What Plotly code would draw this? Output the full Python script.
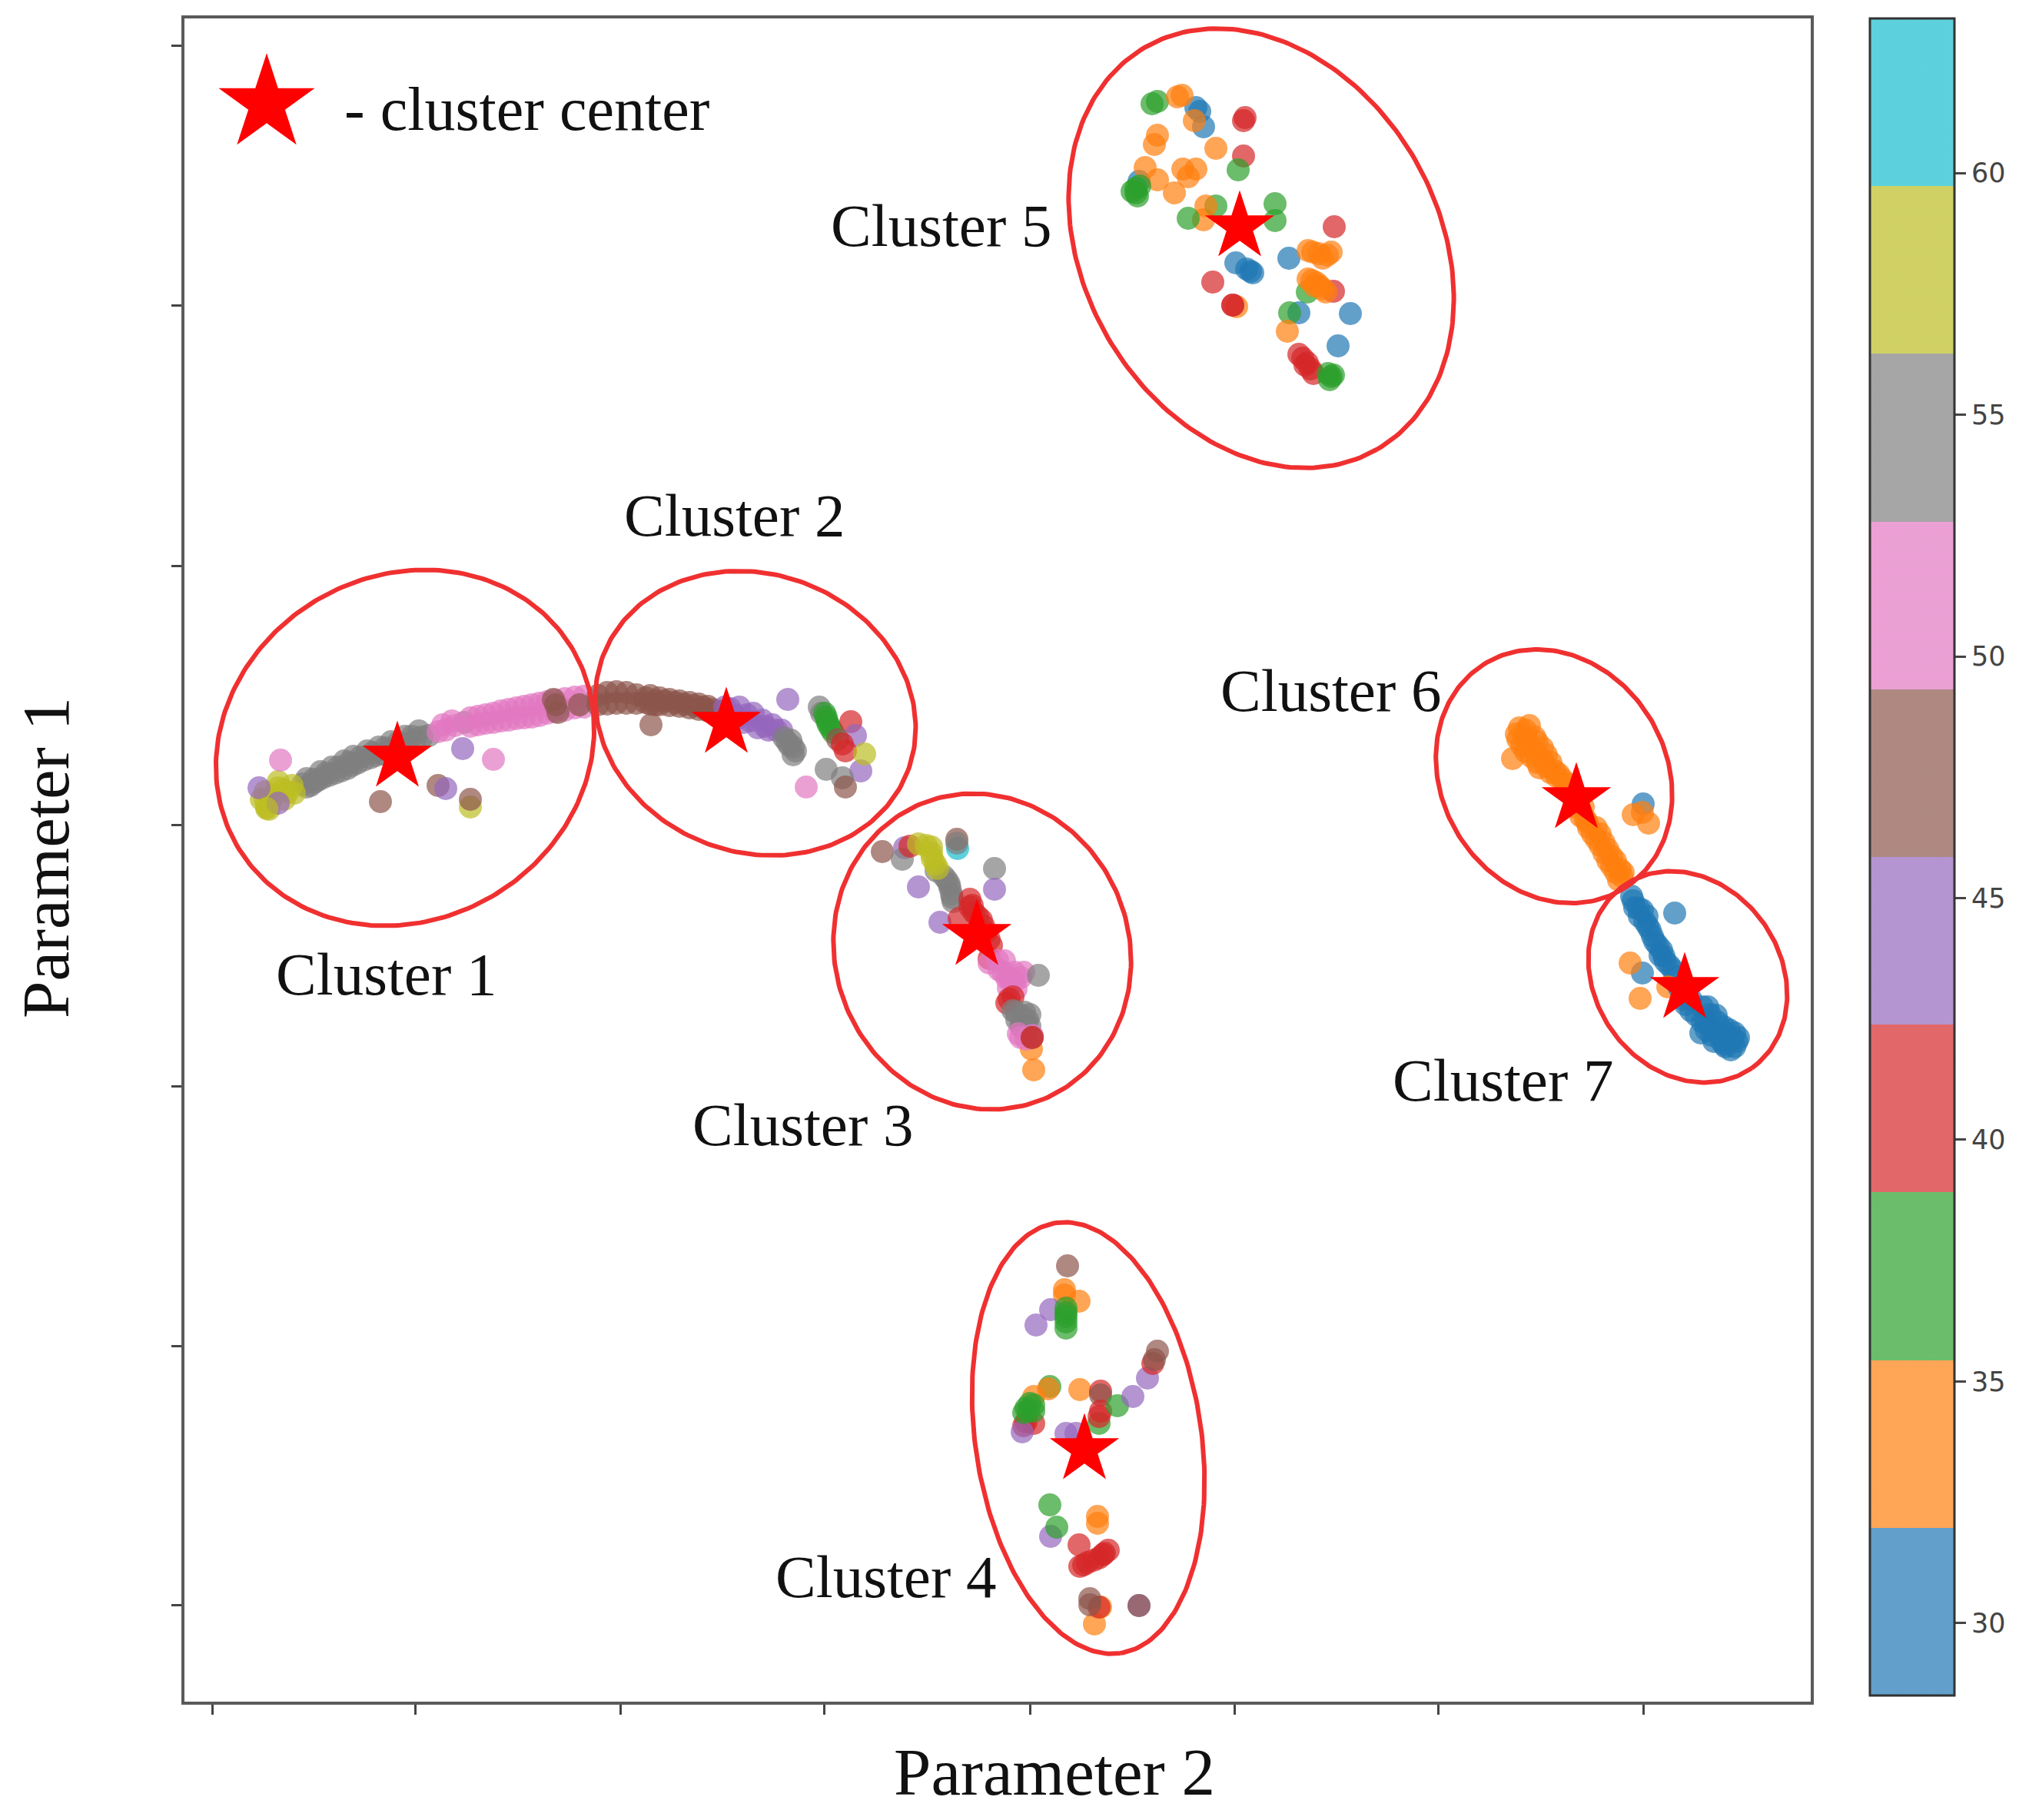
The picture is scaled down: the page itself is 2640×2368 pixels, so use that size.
import math
import plotly.graph_objects as go

# Age groups (one representative value per colour band of the colour bar)
BLUE, ORANGE, GREEN, RED, PURPLE, BROWN, PINK, GRAY, OLIVE, CYAN = 30, 34, 37, 41, 44, 48, 51, 55, 58, 62

x_ticks = [276, 540, 807, 1072, 1340, 1606, 1871, 2138]
y_ticks = [59, 397, 736, 1073, 1413, 1751, 2088]
colorbar_ticks = [30, 35, 40, 45, 50, 55, 60]
band_colors = ["31,119,180", "255,127,14", "44,160,44", "214,39,40", "148,103,189",
               "140,86,75", "227,119,194", "127,127,127", "188,189,34", "23,190,207"]

cluster_1 = [
    (399,1013,GRAY),(417,1004,GRAY),(432,998,GRAY),(448,990,GRAY),(460,984,GRAY),(478,977,GRAY),(493,972,GRAY),(509,965,GRAY),(527,958,GRAY),(545,951,GRAY),
    (399,1024,GRAY),(409,1018,GRAY),(420,1012,GRAY),(436,1006,GRAY),(452,1000,GRAY),(465,993,GRAY),(482,986,GRAY),(497,981,GRAY),(513,974,GRAY),(531,967,GRAY),(549,959,GRAY),(558,957,GRAY),(604,940,GRAY),
    (408,1014,GRAY),(424,1006,GRAY),(440,998,GRAY),(454,992,GRAY),(469,985,GRAY),(485,979,GRAY),(501,973,GRAY),(518,966,GRAY),(536,958,GRAY),
    (394,1020,GRAY),(404,1022,GRAY),(414,1015,GRAY),(428,1009,GRAY),(444,1003,GRAY),(458,996,GRAY),(473,989,GRAY),(489,983,GRAY),(505,977,GRAY),(522,970,GRAY),(540,963,GRAY),
    (347,1050,OLIVE),(340,1040,OLIVE),(368,1028,OLIVE),(380,1022,OLIVE),(362,1017,OLIVE),(383,1032,OLIVE),(350,1053,OLIVE),
    (345,1030,OLIVE),(355,1035,OLIVE),(370,1040,OLIVE),(375,1030,OLIVE),(352,1043,OLIVE),(362,1025,OLIVE),(345,1040,OLIVE),
    (337,1025,PURPLE),(362,1045,PURPLE),(347,1052,OLIVE),
    (576,943,PINK),(588,938,PINK),(570,952,PINK),(580,950,PINK),(592,944,PINK),
    (612,934,PINK),(622,932,PINK),(632,930,PINK),(642,928,PINK),(652,925,PINK),(662,923,PINK),(672,921,PINK),(682,919,PINK),(692,917,PINK),(702,915,PINK),(712,913,PINK),(722,911,PINK),(735,909,PINK),(748,907,PINK),(760,906,PINK),
    (612,945,PINK),(622,943,PINK),(632,941,PINK),(642,940,PINK),(652,938,PINK),(662,937,PINK),(672,935,PINK),(682,934,PINK),(692,933,PINK),(702,931,PINK),(712,928,PINK),(722,926,PINK),(735,924,PINK),(748,921,PINK),(760,920,PINK),
    (723,917,BROWN),(726,927,BROWN),(720,910,BROWN),(754,917,BROWN),
    (365,989,PINK),(642,988,PINK),(602,974,PURPLE),(495,1043,BROWN),(570,1022,BROWN),(580,1026,PURPLE),(612,1050,OLIVE),(612,1040,BROWN),
]
cluster_2 = [
    (778,905,BROWN),(790,901,BROWN),(802,900,BROWN),(815,901,BROWN),(828,904,BROWN),(778,917,BROWN),(790,916,BROWN),(802,915,BROWN),(815,915,BROWN),(828,915,BROWN),
    (840,908,BROWN),(852,912,BROWN),(865,912,BROWN),(878,914,BROWN),(890,916,BROWN),(903,918,BROWN),(915,920,BROWN),(927,923,BROWN),(937,925,BROWN),(840,914,BROWN),(852,917,BROWN),
    (846,905,BROWN),(858,908,BROWN),(871,910,BROWN),(884,912,BROWN),(897,914,BROWN),(909,916,BROWN),(921,919,BROWN),
    (846,916,BROWN),(858,917,BROWN),(871,918,BROWN),(884,919,BROWN),(897,921,BROWN),(909,923,BROWN),(921,925,BROWN),(933,927,BROWN),
    (943,920,PURPLE),(950,922,PURPLE),(962,920,PURPLE),(956,930,PURPLE),(972,930,PURPLE),(980,928,PURPLE),(976,938,PURPLE),(960,935,PURPLE),(992,937,PURPLE),(995,945,PURPLE),(1005,943,PURPLE),(1000,950,PURPLE),(986,947,PURPLE),(1010,950,PURPLE),(1017,950,PURPLE),(968,940,PURPLE),
    (1020,960,GRAY),(1024,965,GRAY),(1029,963,GRAY),(1027,970,GRAY),(1032,972,GRAY),(1035,977,GRAY),(1032,982,GRAY),
    (1066,920,GRAY),(1069,928,GRAY),(1073,928,GREEN),(1075,933,GREEN),(1076,938,GREEN),(1078,943,GREEN),(1081,948,GREEN),(1084,953,GREEN),(1107,939,RED),(1113,957,PURPLE),(1090,962,BROWN),(1096,968,RED),(1100,977,RED),
    (1120,1003,PURPLE),(1125,981,OLIVE),(1075,1001,GRAY),(1096,1012,GRAY),(1100,1024,BROWN),(1049,1024,PINK),(1025,910,PURPLE),(847,943,BROWN),
]
cluster_3 = [
    (1148,1108,BROWN),(1177,1103,PURPLE),(1174,1118,GRAY),(1184,1101,RED),
    (1218,1133,GRAY),(1228,1140,GRAY),(1232,1145,GRAY),(1235,1150,GRAY),(1236,1155,GRAY),(1238,1163,GRAY),(1239,1168,GRAY),(1240,1173,GRAY),
    (1195,1098,OLIVE),(1205,1100,OLIVE),(1212,1102,OLIVE),(1212,1110,OLIVE),(1213,1117,OLIVE),(1217,1124,OLIVE),(1220,1130,OLIVE),
    (1246,1104,CYAN),(1245,1092,BROWN),(1245,1097,GRAY),
    (1294,1130,GRAY),(1294,1157,PURPLE),(1195,1154,PURPLE),(1223,1200,PURPLE),
    (1248,1195,RED),(1262,1170,RED),(1262,1180,RED),(1265,1178,RED),(1267,1187,RED),(1272,1192,RED),(1277,1197,RED),(1280,1205,RED),(1283,1213,RED),(1287,1222,RED),(1290,1230,RED),(1287,1247,RED),
    (1287,1253,PINK),(1298,1250,PINK),(1307,1250,PINK),(1300,1262,PINK),(1305,1265,PINK),(1310,1273,PINK),(1315,1275,PINK),(1312,1285,PINK),(1322,1287,PINK),(1320,1265,PINK),(1320,1277,PINK),(1328,1272,PINK),(1332,1265,PINK),(1351,1269,GRAY),
    (1318,1297,RED),(1313,1300,RED),(1310,1305,RED),(1318,1315,GRAY),(1322,1317,GRAY),(1333,1317,GRAY),(1340,1320,GRAY),(1323,1327,GRAY),(1337,1327,GRAY),(1330,1322,GRAY),(1330,1337,GRAY),(1328,1335,GRAY),(1335,1335,GRAY),(1340,1335,GRAY),
    (1342,1365,ORANGE),(1345,1392,ORANGE),(1325,1345,PINK),(1328,1350,PINK),(1335,1352,PINK),(1343,1347,PINK),(1343,1350,BROWN),(1343,1350,RED),
]
cluster_4 = [
    (1389,1647,BROWN),(1385,1678,ORANGE),(1385,1685,ORANGE),(1404,1693,ORANGE),(1367,1704,PURPLE),(1348,1724,PURPLE),
    (1387,1702,GREEN),(1387,1708,GREEN),(1387,1713,GREEN),(1387,1720,GREEN),(1387,1728,GREEN),
    (1366,1804,GREEN),(1364,1807,ORANGE),(1345,1817,ORANGE),(1332,1855,RED),(1345,1852,RED),(1335,1850,RED),(1330,1863,PURPLE),(1338,1836,GREEN),(1335,1832,GREEN),(1340,1826,GREEN),(1345,1836,GREEN),(1332,1838,GREEN),(1345,1828,GREEN),
    (1405,1808,ORANGE),(1430,1852,GREEN),(1432,1810,RED),(1432,1815,BROWN),(1432,1836,RED),(1430,1843,RED),
    (1454,1829,GREEN),(1474,1817,PURPLE),(1493,1793,PURPLE),(1500,1774,RED),(1506,1758,BROWN),(1502,1769,BROWN),
    (1387,1865,PURPLE),(1400,1865,PURPLE),
    (1366,1958,GREEN),(1367,1999,PURPLE),(1375,1987,GREEN),(1428,1973,ORANGE),(1428,1982,ORANGE),
    (1404,2010,RED),(1405,2038,RED),(1410,2036,RED),(1415,2033,RED),(1423,2030,RED),(1430,2027,RED),(1435,2023,RED),(1437,2021,RED),(1442,2017,RED),
    (1424,2113,ORANGE),(1432,2091,ORANGE),(1430,2091,RED),(1418,2080,BROWN),(1418,2088,BROWN),(1482,2089,PURPLE),(1482,2089,BROWN),
]
cluster_5 = [
    (1556,140,BLUE),(1561,145,BLUE),(1566,165,BLUE),(1554,157,ORANGE),
    (1506,132,GREEN),(1499,135,GREEN),(1538,124,ORANGE),(1532,126,ORANGE),
    (1618,157,RED),(1620,153,RED),(1506,176,ORANGE),(1502,188,ORANGE),(1582,193,ORANGE),
    (1618,203,RED),(1611,221,GREEN),
    (1482,236,BLUE),(1490,218,ORANGE),(1506,234,ORANGE),(1478,245,GREEN),(1480,255,GREEN),(1478,251,GREEN),(1483,242,GREEN),(1473,249,GREEN),
    (1539,220,ORANGE),(1556,220,ORANGE),(1546,230,ORANGE),(1528,251,ORANGE),
    (1566,286,ORANGE),(1582,268,GREEN),(1569,268,ORANGE),(1546,284,GREEN),
    (1659,265,GREEN),(1659,287,GREEN),(1736,295,RED),
    (1677,336,BLUE),(1702,326,ORANGE),(1708,328,ORANGE),(1716,330,ORANGE),(1727,332,ORANGE),(1732,328,ORANGE),(1721,336,ORANGE),
    (1608,342,BLUE),(1622,350,BLUE),(1627,353,BLUE),(1630,355,BLUE),(1578,367,RED),(1609,399,ORANGE),(1604,397,RED),(1604,397,RED),
    (1701,380,GREEN),(1735,379,RED),(1702,363,ORANGE),(1707,365,ORANGE),(1713,368,ORANGE),(1710,372,ORANGE),(1717,372,ORANGE),(1721,376,ORANGE),(1725,380,ORANGE),
    (1690,407,BLUE),(1678,407,GREEN),(1757,408,BLUE),(1675,431,ORANGE),(1741,450,BLUE),
    (1690,461,RED),(1695,466,RED),(1701,472,RED),(1698,475,RED),(1705,480,RED),(1709,486,RED),(1732,490,GREEN),(1728,486,GREEN),(1730,494,GREEN),(1735,488,GREEN),
]
cluster_6 = [
    (1977,947,ORANGE),(1985,950,ORANGE),(1990,944,ORANGE),(1983,959,ORANGE),(1997,959,ORANGE),(1973,955,ORANGE),(1975,962,ORANGE),(1988,965,ORANGE),(2000,965,ORANGE),(1980,970,ORANGE),(1993,973,ORANGE),(2007,973,ORANGE),
    (1985,978,ORANGE),(1998,980,ORANGE),(2012,982,ORANGE),(1992,984,ORANGE),(2007,988,ORANGE),(2000,992,ORANGE),(2018,992,ORANGE),(2012,997,ORANGE),(2003,999,ORANGE),(2017,1005,ORANGE),(2023,1003,ORANGE),(2028,1007,ORANGE),(2025,1010,ORANGE),(2033,1014,ORANGE),(2038,1020,ORANGE),(2043,1025,ORANGE),(2047,1029,ORANGE),(2052,1040,ORANGE),
    (2050,1050,ORANGE),(2060,1050,ORANGE),(2057,1062,ORANGE),(2063,1066,ORANGE),(2065,1070,ORANGE),(2067,1077,ORANGE),(2077,1077,ORANGE),(2072,1085,ORANGE),(2082,1085,ORANGE),(2077,1092,ORANGE),(2087,1096,ORANGE),(2082,1100,ORANGE),(2092,1105,ORANGE),(2087,1110,ORANGE),(2097,1114,ORANGE),(2092,1120,ORANGE),(2102,1120,ORANGE),(2097,1127,ORANGE),(2108,1131,ORANGE),(2102,1135,ORANGE),(2112,1135,ORANGE),(2110,1140,ORANGE),(2106,1145,ORANGE),
    (1968,987,ORANGE),(2138,1046,BLUE),(2137,1057,ORANGE),(2125,1060,ORANGE),(2145,1071,ORANGE),
]
cluster_7 = [
    (2123,1166,BLUE),(2125,1172,BLUE),(2127,1181,BLUE),(2132,1182,BLUE),(2137,1184,BLUE),(2133,1192,BLUE),(2143,1192,BLUE),(2140,1199,BLUE),(2144,1205,BLUE),(2147,1210,BLUE),(2150,1218,BLUE),(2153,1225,BLUE),(2157,1230,BLUE),(2162,1236,BLUE),(2160,1243,BLUE),(2165,1244,BLUE),(2167,1251,BLUE),(2172,1256,BLUE),(2177,1262,BLUE),(2180,1270,BLUE),(2170,1284,ORANGE),(2185,1285,BLUE),(2190,1300,BLUE),(2200,1300,BLUE),(2200,1315,BLUE),
    (2193,1307,BLUE),(2207,1321,BLUE),(2215,1310,BLUE),(2222,1310,BLUE),(2215,1330,BLUE),(2220,1329,BLUE),(2225,1320,BLUE),(2225,1335,BLUE),(2233,1321,BLUE),(2235,1330,BLUE),(2220,1340,BLUE),(2235,1345,BLUE),(2227,1347,BLUE),(2245,1345,BLUE),(2243,1336,BLUE),(2250,1340,BLUE),(2230,1355,BLUE),(2240,1355,BLUE),(2250,1352,BLUE),(2255,1352,BLUE),(2243,1359,BLUE),(2245,1362,BLUE),(2252,1366,BLUE),(2257,1344,BLUE),(2257,1362,BLUE),(2262,1350,BLUE),(2260,1355,BLUE),(2213,1344,BLUE),
    (2179,1188,BLUE),(2137,1266,BLUE),(2121,1253,ORANGE),(2134,1299,ORANGE),
]
clusters = [cluster_1, cluster_2, cluster_3, cluster_4, cluster_5, cluster_6, cluster_7]

cluster_names = ["Cluster 1", "Cluster 2", "Cluster 3", "Cluster 4", "Cluster 5", "Cluster 6", "Cluster 7"]
center_x = [517, 945, 1271, 1411, 1613, 2051, 2192]
center_y = [985, 941, 1217, 1886, 295, 1039, 1286]
label_x = [502, 955, 1044, 1152, 1224, 1731, 1955]
label_y = [1267, 670, 1463, 2051, 293, 898, 1405]
# outline of each cluster: centre, semi-axes, tilt in degrees
ring_cx = [527, 983, 1278, 1416, 1641, 2022, 2196]
ring_cy = [973, 928, 1238, 1871, 323, 1010, 1271]
ring_a = [253, 212, 208, 283, 302, 172, 145]
ring_b = [224, 181, 191, 147, 231, 146, 121]
ring_tilt = [-30, 20.5, 67, 81.5, 60, 58, 55]

CMIN, CMAX = 28.5, 63.2
step = 1 / len(band_colors)
colorscale = []
for i, rgb in enumerate(band_colors):
    c = f"rgba({rgb},0.7)"
    colorscale += [[i * step, c], [(i + 1) * step, c]]

fig = go.Figure()
for pts in clusters:
    fig.add_trace(go.Scatter(
        x=[p[0] for p in pts], y=[p[1] for p in pts], mode="markers", showlegend=False,
        marker=dict(size=30, color=[p[2] for p in pts], coloraxis="coloraxis", line=dict(width=0)),
    ))

for cx, cy, a, b, tilt in zip(ring_cx, ring_cy, ring_a, ring_b, ring_tilt):
    th = math.radians(tilt)
    ts = [2 * math.pi * k / 240 for k in range(241)]
    fig.add_trace(go.Scatter(
        x=[cx + a * math.cos(t) * math.cos(th) - b * math.sin(t) * math.sin(th) for t in ts],
        y=[cy + a * math.cos(t) * math.sin(th) + b * math.sin(t) * math.cos(th) for t in ts],
        mode="lines", showlegend=False, line=dict(color="#f03030", width=6),
    ))

fig.add_trace(go.Scatter(x=center_x, y=center_y, mode="markers", showlegend=False,
                         marker=dict(symbol="star", size=68, color="#ff0000", line=dict(width=0))))
fig.add_trace(go.Scatter(x=[347], y=[135], mode="markers", showlegend=False,
                         marker=dict(symbol="star", size=94, color="#ff0000", line=dict(width=0))))

serif = "Liberation Serif"
for name, lx, ly in zip(cluster_names, label_x, label_y):
    fig.add_annotation(x=lx, y=ly, text=name, showarrow=False, xref="x", yref="y",
                       font=dict(family=serif, size=79, color="#111111"))
fig.add_annotation(x=446, y=142, text="- cluster center", showarrow=False, xanchor="left",
                   xref="x", yref="y", font=dict(family=serif, size=80, color="#111111"))
# axis captions sit outside the axis ranges, so they are placed on the paper
fig.add_annotation(x=(1372 - 240) / 2116, y=1 - (2305 - 24) / 2190, text="Parameter 2", showarrow=False,
                   xref="paper", yref="paper", xanchor="center", yanchor="middle",
                   font=dict(family=serif, size=87, color="#111111"))
fig.add_annotation(x=(59 - 240) / 2116, y=1 - (1116 - 24) / 2190, text="Parameter 1", showarrow=False,
                   xref="paper", yref="paper", xanchor="center", yanchor="middle", textangle=-90,
                   font=dict(family=serif, size=87, color="#111111"))

axis_common = dict(showline=True, mirror=True, linecolor="#5a5a5a", linewidth=4, showgrid=False, zeroline=False,
                   ticks="outside", ticklen=13, tickwidth=3, tickcolor="#444444", showticklabels=False,
                   tickmode="array")
fig.update_layout(
    width=2640, height=2368, paper_bgcolor="white", plot_bgcolor="white",
    margin=dict(l=240, r=284, t=24, b=154),
    xaxis=dict(range=[240, 2356], tickvals=x_ticks, **axis_common),
    yaxis=dict(range=[2214, 24], tickvals=y_ticks, **axis_common),
    coloraxis=dict(
        cmin=CMIN, cmax=CMAX, colorscale=colorscale,
        colorbar=dict(
            x=(2433 - 240) / 2116, xanchor="left", y=1, yanchor="top",
            lenmode="fraction", len=(2206 - 24) / 2190, thicknessmode="pixels", thickness=110,
            xpad=0, ypad=0, outlinewidth=3, outlinecolor="#333333",
            tickmode="array", tickvals=colorbar_ticks, ticks="outside", ticklen=14, tickwidth=3, tickcolor="#444444",
            tickfont=dict(family="DejaVu Sans", size=35, color="#444444"),
        ),
    ),
)
fig.write_html("out.html", config={"displayModeBar": False}, post_script="document.body.style.margin='0';")
